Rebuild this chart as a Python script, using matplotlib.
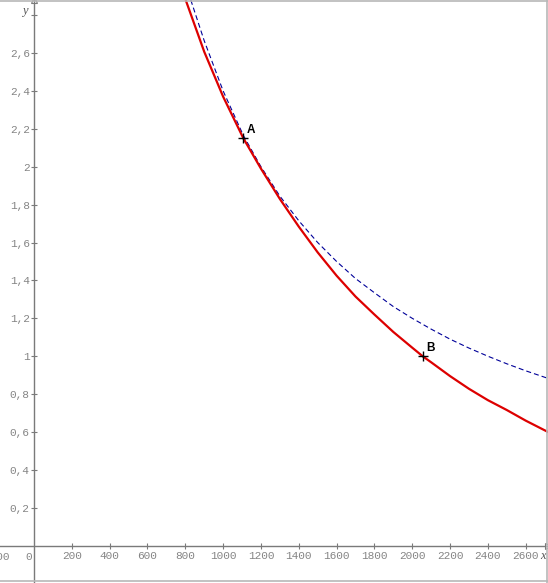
import matplotlib
matplotlib.use("Agg")
import matplotlib.pyplot as plt
from matplotlib.ticker import FuncFormatter
from matplotlib.lines import Line2D

plt.rcParams['lines.scale_dashes'] = False

# ---- data ----
red_x = [802, 900, 1000, 1107, 1200, 1300, 1400, 1500, 1600, 1700, 1800, 1900, 2000,
         2055, 2100, 2200, 2300, 2400, 2500, 2600, 2718]
red_y = [2.88, 2.607, 2.37, 2.15, 1.99, 1.83, 1.684, 1.548, 1.425, 1.315, 1.22, 1.128, 1.045,
         1.0, 0.968, 0.895, 0.828, 0.768, 0.716, 0.66, 0.60]

blue_x = [829, 900, 1000, 1107, 1200, 1300, 1400, 1500, 1600, 1700, 1800, 1900, 2000,
          2100, 2200, 2300, 2400, 2500, 2600, 2718]
blue_y = [2.88, 2.665, 2.40, 2.165, 2.0, 1.845, 1.715, 1.60, 1.50, 1.41, 1.335, 1.262, 1.2,
          1.143, 1.09, 1.043, 1.0, 0.96, 0.923, 0.883]

points = {"A": (1107, 2.15), "B": (2055, 1.0)}

x_ticks = [200, 400, 600, 800, 1000, 1200, 1400, 1600, 1800, 2000, 2200, 2400, 2600]
y_ticks = [0.2, 0.4, 0.6, 0.8, 1.0, 1.2, 1.4, 1.6, 1.8, 2.0, 2.2, 2.4, 2.6, 2.8]

AX = '#7a7a7a'
LBL = '#858585'
FS = 8.0

fig = plt.figure(figsize=(5.48, 5.83), dpi=100)
ax = fig.add_axes([0, 0, 1, 1])
ax.set_xlim(-180, 2718)
ax.set_ylim(-0.197, 2.88)

for s in ['top', 'right']:
    ax.spines[s].set_visible(False)
ax.spines['bottom'].set_position(('data', 0))
ax.spines['left'].set_position(('data', 0))
for s in ['bottom', 'left']:
    ax.spines[s].set_color(AX)
    ax.spines[s].set_linewidth(1.0)

ax.set_xticks(x_ticks)
ax.set_yticks(y_ticks)

def fmt_y(v, pos):
    if round(v, 1) == 2.8:
        return ''
    s = ('%.1f' % v)
    if s.endswith('.0'):
        s = s[:-2]
    return s.replace('.', ',')

ax.yaxis.set_major_formatter(FuncFormatter(fmt_y))
ax.xaxis.set_major_formatter(FuncFormatter(lambda v, p: '%d' % v))

ax.tick_params(axis='both', direction='inout', length=4.3, width=0.8, color=AX,
               labelcolor=LBL, labelsize=FS)
ax.tick_params(axis='y', pad=1.0)
ax.tick_params(axis='x', pad=1.6)
for lab in ax.get_xticklabels() + ax.get_yticklabels():
    lab.set_family('Liberation Mono')

# extra x labels 0 and -200
ax.annotate('0', xy=(0, 0), xytext=(-3.5, -4.6), textcoords='offset points',
            ha='center', va='top', fontsize=FS, color=LBL, family='Liberation Mono',
            annotation_clip=False)
ax.annotate('-200', xy=(-200, 0), xytext=(0, -4.6), textcoords='offset points',
            ha='center', va='top', fontsize=FS, color=LBL, family='Liberation Mono',
            annotation_clip=False)

# axis arrows
ax.plot(1, 0, marker='>', ms=4, color=AX, transform=ax.get_yaxis_transform(), clip_on=False,
        markerfacecolor='none', mew=0.8)
ax.plot(0, 1, marker='^', ms=4, color=AX, transform=ax.get_xaxis_transform(), clip_on=False,
        markerfacecolor='none', mew=0.8)

# axis names
ax.text(0.990, 0.046, 'x', transform=ax.transAxes, ha='center', va='center',
        fontsize=9, style='italic', family='Liberation Serif', color='#555555')
ax.text(0.046, 0.981, 'y', transform=ax.transAxes, ha='center', va='center',
        fontsize=9, style='italic', family='Liberation Serif', color='#555555')

# curves
ax.plot(blue_x, blue_y, color='#000099', lw=0.8, dashes=(3.6, 2.2), zorder=3)
ax.plot(red_x, red_y, color='#dd0000', lw=1.6, zorder=4, solid_joinstyle='round')

for name, (px, py) in points.items():
    ax.plot(px, py, marker='+', ms=7, mew=1.0, color='black', zorder=5)
    ax.annotate(name, xy=(px, py), xytext=(2.6, 1.5), textcoords='offset points',
                ha='left', va='bottom', fontsize=8.5, family='Liberation Sans',
                fontweight='bold', color='black')

# outer frame lines
fig.add_artist(Line2D([0, 1], [1 - 0.5/583, 1 - 0.5/583], transform=fig.transFigure,
                      color='#b8b8b8', lw=1.2))
fig.add_artist(Line2D([1 - 1.5/548, 1 - 1.5/548], [0, 1], transform=fig.transFigure,
                      color='#b8b8b8', lw=1.2))
fig.add_artist(Line2D([0, 1], [2/583, 2/583], transform=fig.transFigure,
                      color='#b8b8b8', lw=1.2))

fig.savefig('out.png', dpi=100)
